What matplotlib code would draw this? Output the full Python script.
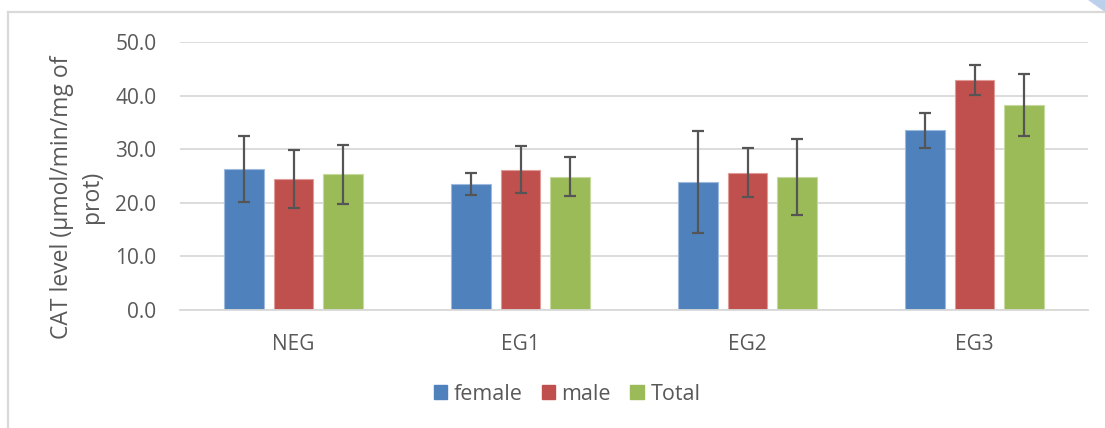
import numpy as np
import matplotlib
matplotlib.use("Agg")
import matplotlib.pyplot as plt
from matplotlib.patches import Rectangle, Polygon
from matplotlib.lines import Line2D

# CAT activity per group, mean and error (µmol/min/mg of prot)
groups = ['NEG', 'EG1', 'EG2', 'EG3']
series = ['female', 'male', 'Total']
female = [26.3, 23.5, 23.9, 33.5]
female_err = [6.2, 2.1, 9.5, 3.2]
male = [24.4, 26.2, 25.6, 43.0]
male_err = [5.4, 4.4, 4.6, 2.8]
total = [25.3, 24.9, 24.8, 38.2]
total_err = [5.5, 3.6, 7.1, 5.8]
y_ticks = [0, 10, 20, 30, 40, 50]

colors = ['#4F81BD', '#C0504D', '#9BBB59']
edges = ['#9DB9DD', '#E09A98', '#C7DA9E']
text_col = '#595959'
grid_col = '#D9D9D9'

plt.rcParams['font.family'] = ['Open Sans', 'DejaVu Sans']

W, H = 1105, 428
fig = plt.figure(figsize=(W / 100, H / 100), dpi=100)
ax = fig.add_axes([180 / W, 1 - 310 / H, 908 / W, 268 / H])

x = np.arange(len(groups))
step = 0.22
width = 0.176
means = [female, male, total]
errs = [female_err, male_err, total_err]

handles = []
for i in range(3):
    pos = x + (i - 1) * step
    ax.bar(pos, means[i], width, color=colors[i], edgecolor=edges[i],
           linewidth=0.8, zorder=2)
    ax.errorbar(pos, means[i], yerr=errs[i], fmt='none', ecolor='#555555',
                elinewidth=1.6, capsize=4.3, capthick=1.6, zorder=3)
    handles.append(Rectangle((0, 0), 1, 1, color=colors[i]))

ax.set_xlim(-0.5, len(groups) - 0.5)
ax.set_ylim(0, 50)
ax.set_yticks(y_ticks)
ax.set_yticklabels([f'{v:.1f}' for v in y_ticks])
ax.set_xticks(x)
ax.set_xticklabels(groups)
ax.tick_params(axis='both', length=0, labelsize=15, colors=text_col)
ax.tick_params(axis='y', pad=17)
ax.tick_params(axis='x', pad=17)
ax.yaxis.grid(True, color=grid_col, linewidth=1.3, zorder=0)
ax.set_axisbelow(True)
for s in ['top', 'right', 'left']:
    ax.spines[s].set_visible(False)
ax.spines['bottom'].set_color(grid_col)
ax.spines['bottom'].set_linewidth(1.3)

fig.text(77 / W, 1 - 197 / H, 'CAT level (µmol/min/mg of\nprot)',
         rotation=90, ha='center', va='center', multialignment='center',
         fontsize=16.5, color=text_col, linespacing=1.3)

fig.legend(handles, series, loc='center', bbox_to_anchor=(567 / W, 1 - 394 / H),
           ncol=3, frameon=False, fontsize=15.5, handlelength=0.62,
           handleheight=0.62, handletextpad=0.3, columnspacing=0.9,
           labelcolor=text_col)

# chart frame and page corner
fig.add_artist(Line2D([8 / W, 8 / W], [0, 1 - 12 / H], transform=fig.transFigure,
                      color=grid_col, linewidth=1.6))
fig.add_artist(Line2D([8 / W, 1], [1 - 12 / H, 1 - 12 / H], transform=fig.transFigure,
                      color=grid_col, linewidth=1.6))
fig.add_artist(Polygon([[1088 / W, 1], [1, 1], [1, 1 - 12 / H]], closed=True,
                       transform=fig.transFigure, facecolor='#BCD0EC', edgecolor='none'))

fig.savefig('out.png', dpi=100)
